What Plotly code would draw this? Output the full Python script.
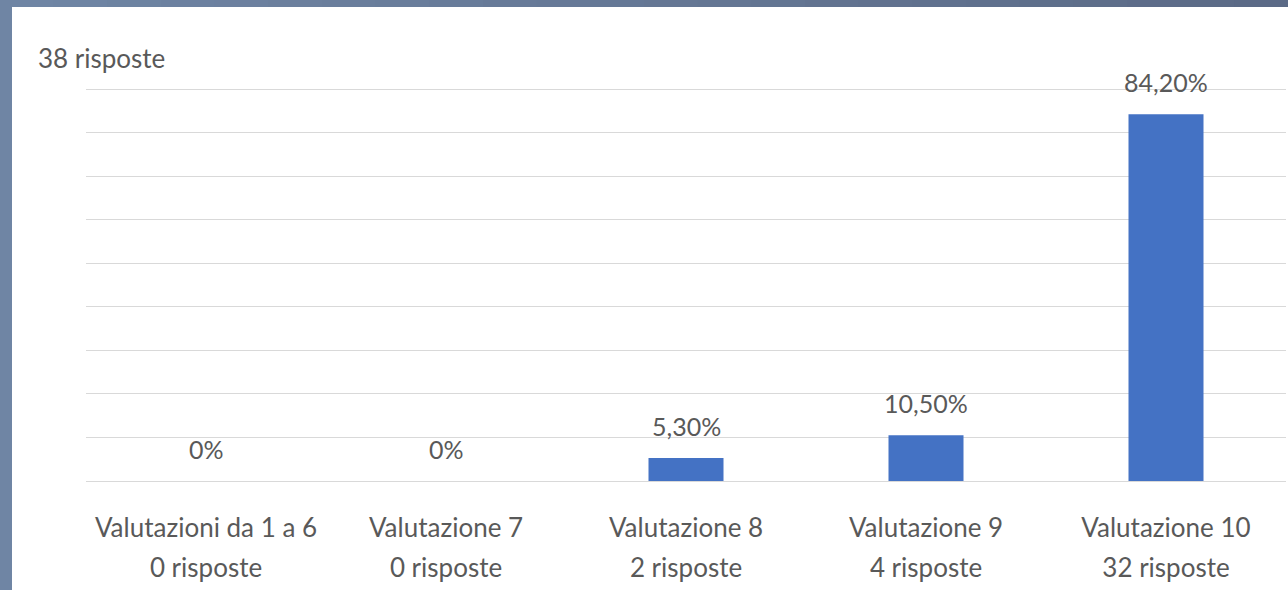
import plotly.graph_objects as go

categories = ["Valutazioni da 1 a 6", "Valutazione 7", "Valutazione 8", "Valutazione 9", "Valutazione 10"]
responses = ["0 risposte", "0 risposte", "2 risposte", "4 risposte", "32 risposte"]
percentages = [0, 0, 5.3, 10.5, 84.2]
value_labels = ["0%", "0%", "5,30%", "10,50%", "84,20%"]
total_label = "38 risposte"

FONT = "Lato"
TXT = "#595959"
BAR = "#4472C4"
GRID = "#D9D9D9"

W, H = 1288, 590
L, R, T, B = 86, 2, 88, 109
pw, ph = W - L - R, H - T - B

fig = go.Figure()
fig.add_trace(go.Bar(
    x=list(range(len(categories))), y=percentages,
    marker=dict(color=BAR, line=dict(width=0)),
    hoverinfo="skip", showlegend=False,
))

annotations = []
for i, (v, lab) in enumerate(zip(percentages, value_labels)):
    annotations.append(dict(
        x=i, y=v, xref="x", yref="y", text=lab, showarrow=False,
        yanchor="bottom", xanchor="center", yshift=15,
        font=dict(family=FONT, size=25, color=TXT),
    ))
annotations.append(dict(
    x=(36 - L) / pw, y=(H - B - 58) / ph, xref="paper", yref="paper",
    text=total_label, showarrow=False, xanchor="left", yanchor="middle",
    font=dict(family=FONT, size=26, color=TXT),
))

# frame border (left and top bands)
shapes = [dict(type="rect", xref="paper", yref="paper",
               x0=(0 - L) / pw, x1=(12 - L) / pw, y0=(H - B - H) / ph, y1=(H - B) / ph,
               fillcolor="#6F85A4", line=dict(width=0), layer="above")]
nseg = 24
c0 = (0x6F, 0x85, 0xA4)
c1 = (0x5B, 0x6A, 0x86)
for k in range(nseg):
    t = k / (nseg - 1)
    col = "rgb(%d,%d,%d)" % tuple(round(a + (b - a) * t) for a, b in zip(c0, c1))
    xa = k * W / nseg
    xb = (k + 1) * W / nseg + 1
    shapes.append(dict(type="rect", xref="paper", yref="paper",
                       x0=(xa - L) / pw, x1=(xb - L) / pw,
                       y0=(H - B - 7) / ph, y1=(H - B) / ph,
                       fillcolor=col, line=dict(width=0), layer="above"))

fig.update_layout(
    width=W, height=H,
    margin=dict(l=L, r=R, t=T, b=B, pad=0),
    paper_bgcolor="white", plot_bgcolor="white",
    bargap=0.6875,
    font=dict(family=FONT, color=TXT),
    xaxis=dict(
        type="linear", range=[-0.5, len(categories) - 0.5],
        tickvals=list(range(len(categories))), ticktext=categories,
        showgrid=False, zeroline=False, showline=False, ticks="",
        tickfont=dict(family=FONT, size=26, color=TXT),
        ticklabelstandoff=29,
    ),
    xaxis2=dict(
        type="linear", range=[-0.5, len(categories) - 0.5],
        overlaying="x", anchor="y", side="bottom",
        tickvals=list(range(len(categories))), ticktext=responses,
        showgrid=False, zeroline=False, showline=False, ticks="",
        tickfont=dict(family=FONT, size=26, color=TXT),
        ticklabelstandoff=69,
    ),
    yaxis=dict(
        range=[0, 90.25], dtick=10, showticklabels=False,
        showgrid=True, gridcolor=GRID, gridwidth=1,
        zeroline=True, zerolinecolor=GRID, zerolinewidth=1,
        showline=False, ticks="",
    ),
    annotations=annotations,
    shapes=shapes,
)
fig.add_trace(go.Scatter(x=list(range(len(categories))), y=[0] * len(categories),
                         xaxis="x2", mode="markers", marker=dict(opacity=0),
                         hoverinfo="skip", showlegend=False))

fig.write_html(
    "out.html",
    config={"displayModeBar": False},
    post_script="document.body.style.margin='0';document.body.style.padding='0';document.body.style.overflow='hidden';",
)
